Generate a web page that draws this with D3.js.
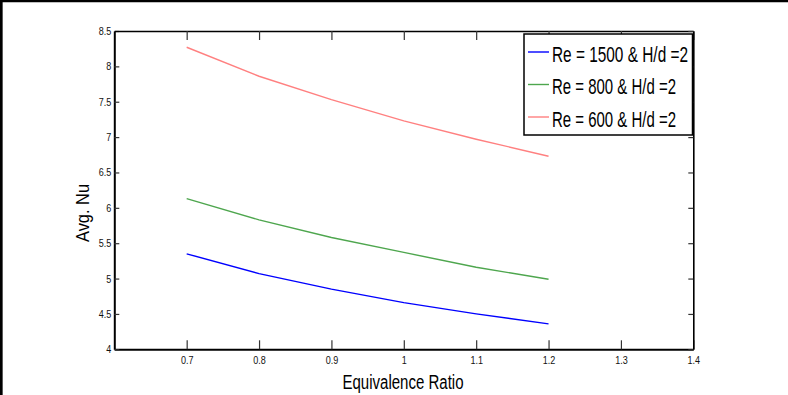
<!DOCTYPE html>
<html>
<head>
<meta charset="utf-8">
<script src="https://cdn.jsdelivr.net/npm/d3@7"></script>
<style>
  body { margin: 0; background: #fff; }
  svg { display: block; }
  .tick text { font-family: "Liberation Sans Narrow", "Liberation Sans", Arial, sans-serif; font-size: 11px; fill: #111; }
</style>
</head>
<body>
<div id="chart"></div>
<script>
// data
const ratios = [0.7, 0.8, 0.9, 1.0, 1.1, 1.2];
const nuRe1500 = [5.35, 5.07, 4.85, 4.66, 4.50, 4.36];
const nuRe800 = [6.13, 5.83, 5.58, 5.37, 5.16, 4.99];
const nuRe600 = [8.27, 7.86, 7.53, 7.23, 6.97, 6.73];
const seriesNames = ['Re = 1500 & H/d =2', 'Re = 800 & H/d =2', 'Re = 600 & H/d =2'];
const seriesColors = ['#0000ff', '#4ea64e', '#ff8080'];
const xTicks = [0.7, 0.8, 0.9, 1.0, 1.1, 1.2, 1.3, 1.4];
const yTicks = [4, 4.5, 5, 5.5, 6, 6.5, 7, 7.5, 8, 8.5];

const width = 788, height = 395;
const margin = {top: 31, right: 94.7, bottom: 45.7, left: 114.3};
const innerW = width - margin.left - margin.right;
const innerH = height - margin.top - margin.bottom;

const svg = d3.select('#chart').append('svg')
    .attr('width', width)
    .attr('height', height);

// frame of the figure (top and left edges only)
svg.append('line').attr('x1', 0).attr('x2', width).attr('y1', 1).attr('y2', 1)
  .attr('stroke', '#000').attr('stroke-width', 2.5);
svg.append('line').attr('x1', 1.3).attr('x2', 1.3).attr('y1', 0).attr('y2', height)
  .attr('stroke', '#000').attr('stroke-width', 2.7);

const g = svg.append('g')
    .attr('transform', `translate(${margin.left}, ${margin.top})`);

const x = d3.scaleLinear().domain([0.6, 1.4]).range([0, innerW]);
const y = d3.scaleLinear().domain([4, 8.5]).range([innerH, 0]);

const fmt = d => d3.format('')(+d.toFixed(1));

// squeeze the tick labels a bit, they are narrow in the original
function narrow(sel, k) {
  sel.selectAll('text').each(function() {
    const w = this.getComputedTextLength();
    d3.select(this).attr('textLength', w * k).attr('lengthAdjust', 'spacingAndGlyphs');
  });
}

const xAxis = g.append('g')
    .attr('transform', `translate(0, ${innerH})`)
    .call(d3.axisBottom(x).tickValues(xTicks).tickFormat(fmt).tickSizeInner(-9).tickSizeOuter(0).tickPadding(7));
const yAxis = g.append('g')
    .call(d3.axisLeft(y).tickValues(yTicks).tickFormat(fmt).tickSizeInner(-5).tickSizeOuter(0).tickPadding(3));
const xTop = g.append('g')
    .call(d3.axisTop(x).tickValues(xTicks).tickFormat('').tickSizeInner(-9).tickSizeOuter(0));
const yRight = g.append('g')
    .attr('transform', `translate(${innerW}, 0)`)
    .call(d3.axisRight(y).tickValues(yTicks).tickFormat('').tickSizeInner(-5).tickSizeOuter(0));

[xAxis, yAxis, xTop, yRight].forEach(a => {
  a.select('.domain').attr('stroke', '#000').attr('stroke-width', 1.6);
  a.selectAll('.tick line').attr('stroke', '#333').attr('stroke-width', 1.2);
});
xAxis.select('.domain').attr('stroke-width', 2);
yAxis.select('.domain').attr('stroke-width', 2);
narrow(xAxis, 0.82);
narrow(yAxis, 0.82);

// lines
const allSeries = [nuRe1500, nuRe800, nuRe600];
const line = d3.line()
    .x((d, i) => x(ratios[i]))
    .y(d => y(d));

g.selectAll('.series')
  .data(allSeries)
  .join('path')
    .attr('class', 'series')
    .attr('fill', 'none')
    .attr('stroke', (d, i) => seriesColors[i])
    .attr('stroke-width', 1.4)
    .attr('d', line);

// legend
const legend = svg.append('g').attr('transform', 'translate(524, 34)');
legend.append('rect')
    .attr('width', 168.5)
    .attr('height', 101)
    .attr('fill', '#fff')
    .attr('stroke', '#000')
    .attr('stroke-width', 1.5);

const rows = legend.selectAll('.row')
  .data(seriesNames)
  .join('g')
    .attr('class', 'row')
    .attr('transform', (d, i) => `translate(0, ${18 + i * 32.5})`);

rows.append('line')
    .attr('x1', 4).attr('x2', 25)
    .attr('stroke', (d, i) => seriesColors[i])
    .attr('stroke-width', 1.4);

rows.append('text')
    .attr('x', 28)
    .attr('y', 9.5)
    .attr('font-family', '"Liberation Sans Narrow", "Liberation Sans", Arial, sans-serif')
    .attr('font-size', 22)
    .attr('fill', '#000')
    .attr('textLength', (d, i) => [136, 124, 124][i])
    .attr('lengthAdjust', 'spacingAndGlyphs')
    .text(d => d);

// axis titles
svg.append('text')
    .attr('x', 403)
    .attr('y', 389)
    .attr('text-anchor', 'middle')
    .attr('font-family', '"Liberation Sans Narrow", "Liberation Sans", Arial, sans-serif')
    .attr('font-size', 20)
    .attr('fill', '#000')
    .attr('textLength', 121)
    .attr('lengthAdjust', 'spacingAndGlyphs')
    .text('Equivalence Ratio');

svg.append('text')
    .attr('transform', 'translate(89, 213) rotate(-90)')
    .attr('text-anchor', 'middle')
    .attr('font-family', '"Liberation Sans", Arial, sans-serif')
    .attr('font-size', 18)
    .attr('fill', '#000')
    .attr('textLength', 58)
    .attr('lengthAdjust', 'spacingAndGlyphs')
    .text('Avg. Nu');
</script>
</body>
</html>
